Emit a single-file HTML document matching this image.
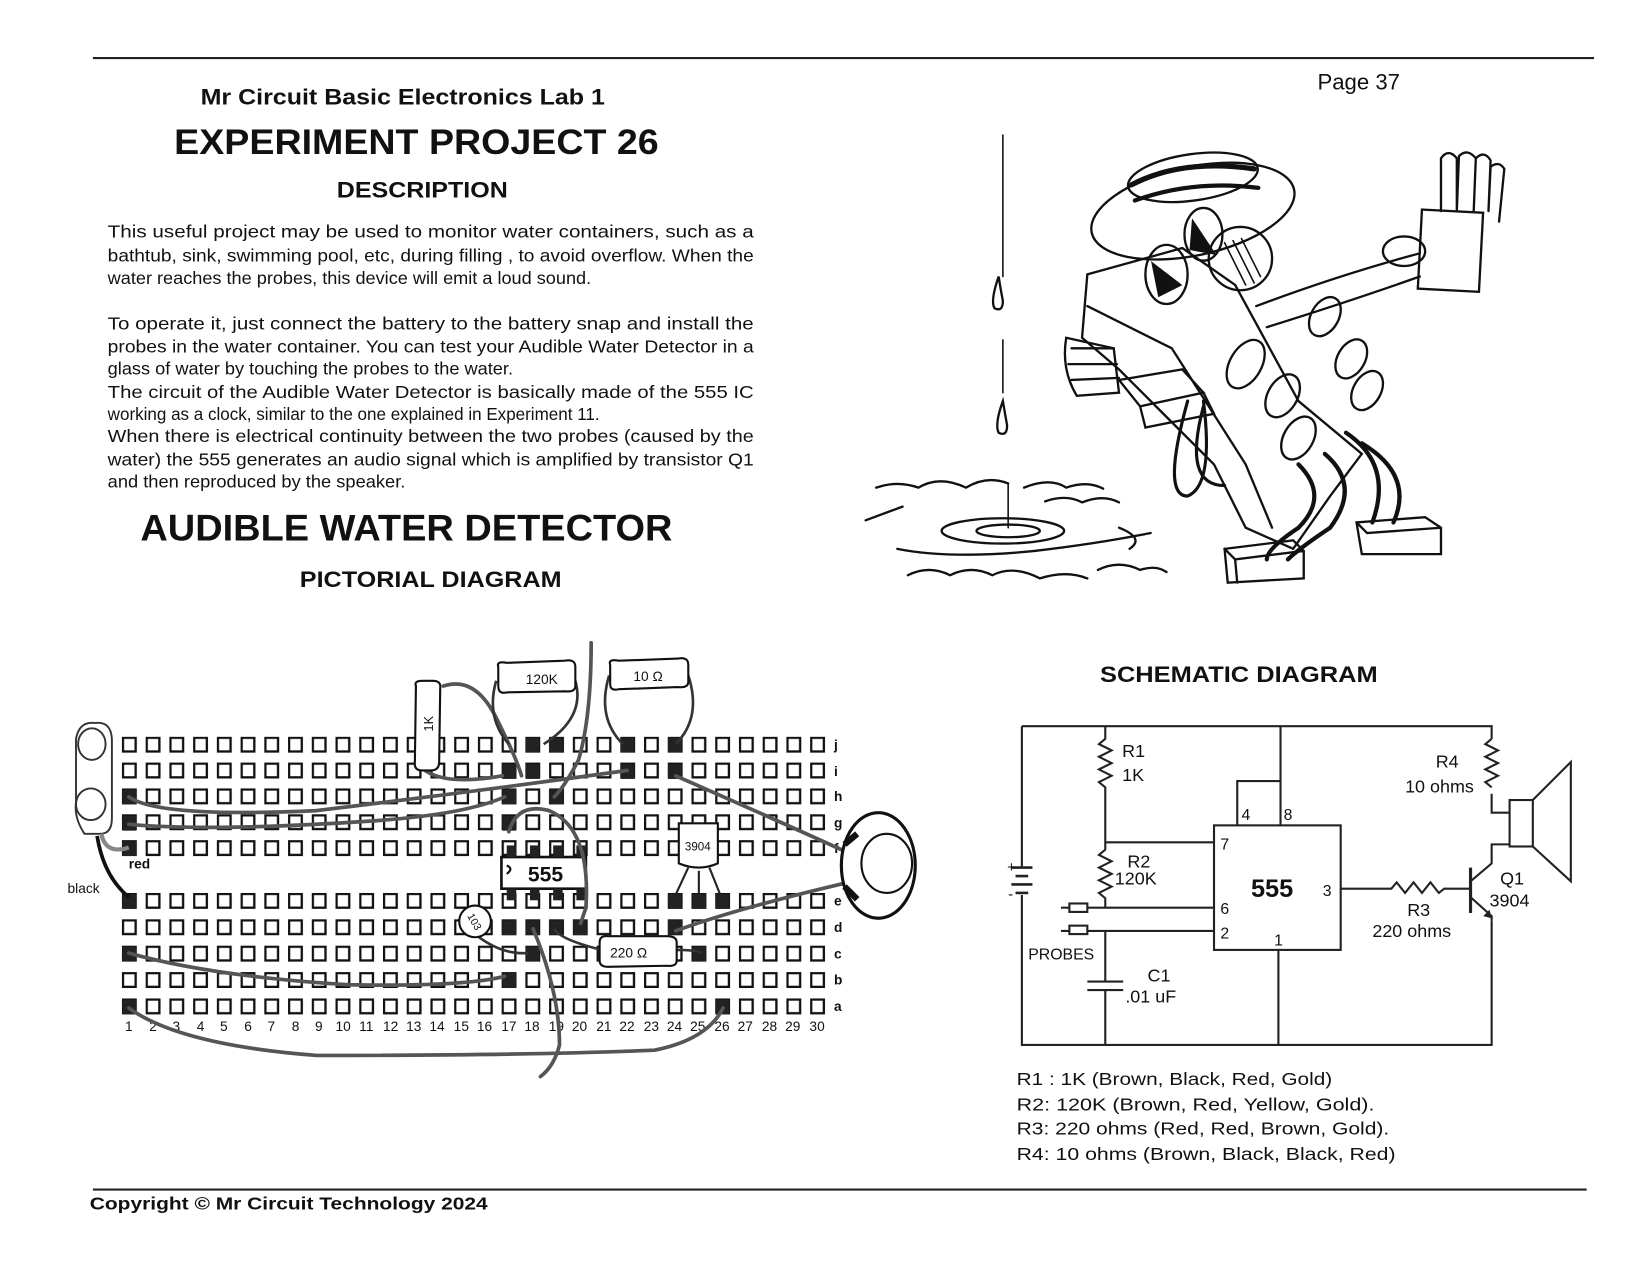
<!DOCTYPE html>
<html><head><meta charset="utf-8">
<style>
html,body{margin:0;padding:0;background:#fff;}
svg{display:block;}
text{font-family:"Liberation Sans",sans-serif;fill:#111;}
.b{font-weight:bold;}
.body{font-size:16.5px;}
.sch{font-size:17px;}
</style></head>
<body>
<svg width="1650" height="1275" viewBox="0 0 1563 1208" preserveAspectRatio="none" xmlns="http://www.w3.org/2000/svg">
<defs>
<pattern id="hp" patternUnits="userSpaceOnUse" x="115.5" y="698" width="22.48" height="24.5">
<rect x="1" y="1" width="12" height="13" fill="none" stroke="#111" stroke-width="2.2"/>
</pattern>
<pattern id="hp2" patternUnits="userSpaceOnUse" x="115.5" y="846" width="22.48" height="25">
<rect x="1" y="1" width="12" height="13" fill="none" stroke="#111" stroke-width="2.2"/>
</pattern>
</defs>
<rect width="1563" height="1208" fill="#fff"/>
<line x1="88" y1="55" x2="1510" y2="55" stroke="#222" stroke-width="2"/>
<line x1="88" y1="1127" x2="1503" y2="1127" stroke="#222" stroke-width="2"/>

<text x="190" y="99" class="b" font-size="21" textLength="383" lengthAdjust="spacingAndGlyphs">Mr Circuit Basic Electronics Lab 1</text>
<text x="1248" y="85" font-size="21">Page 37</text>
<text x="165" y="146" class="b" font-size="33" textLength="459" lengthAdjust="spacingAndGlyphs">EXPERIMENT PROJECT 26</text>
<text x="319" y="187" class="b" font-size="21" textLength="162" lengthAdjust="spacingAndGlyphs">DESCRIPTION</text>

<g class="body">
<text x="102" y="225" textLength="612" lengthAdjust="spacingAndGlyphs">This useful project may be used to monitor water containers, such as a</text>
<text x="102" y="248" textLength="612" lengthAdjust="spacingAndGlyphs">bathtub, sink, swimming pool, etc, during filling , to avoid overflow. When the</text>
<text x="102" y="269" textLength="458" lengthAdjust="spacingAndGlyphs">water reaches the probes, this device will emit a loud sound.</text>
<text x="102" y="312" textLength="612" lengthAdjust="spacingAndGlyphs">To operate it, just connect the battery to the battery snap and install the</text>
<text x="102" y="334" textLength="612" lengthAdjust="spacingAndGlyphs">probes in the water container. You can test your Audible Water Detector in a</text>
<text x="102" y="355" textLength="384" lengthAdjust="spacingAndGlyphs">glass of water by touching the probes to the water.</text>
<text x="102" y="377" textLength="612" lengthAdjust="spacingAndGlyphs">The circuit of the Audible Water Detector is basically made of the 555 IC</text>
<text x="102" y="398" textLength="466" lengthAdjust="spacingAndGlyphs">working as a clock, similar to the one explained in Experiment 11.</text>
<text x="102" y="419" textLength="612" lengthAdjust="spacingAndGlyphs">When there is electrical continuity between the two probes (caused by the</text>
<text x="102" y="441" textLength="612" lengthAdjust="spacingAndGlyphs">water) the 555 generates an audio signal which is amplified by transistor Q1</text>
<text x="102" y="462" textLength="282" lengthAdjust="spacingAndGlyphs">and then reproduced by the speaker.</text>
</g>

<text x="133" y="512" class="b" font-size="35" textLength="504" lengthAdjust="spacingAndGlyphs">AUDIBLE WATER DETECTOR</text>
<text x="284" y="556" class="b" font-size="21" textLength="248" lengthAdjust="spacingAndGlyphs">PICTORIAL DIAGRAM</text>
<text x="1042" y="646" class="b" font-size="21" textLength="263" lengthAdjust="spacingAndGlyphs">SCHEMATIC DIAGRAM</text>
<text x="85" y="1146" class="b" font-size="17" textLength="377" lengthAdjust="spacingAndGlyphs">Copyright © Mr Circuit Technology 2024</text>

<!-- ===== cartoon ===== -->
<g fill="none" stroke="#111" stroke-width="2.2" stroke-linecap="round">
<line x1="950" y1="128" x2="950" y2="262" stroke-width="1.5"/>
<path d="M946 262 Q938 285 942 292 Q950 296 950 285 Q948 275 946 262Z"/>
<line x1="950" y1="322" x2="950" y2="372" stroke-width="1.5"/>
<path d="M950 380 Q942 402 946 410 Q954 414 954 403 Q952 392 950 380Z"/>
<line x1="955" y1="458" x2="955" y2="500" stroke-width="1.5"/>
<ellipse cx="955" cy="503" rx="30" ry="6"/>
<ellipse cx="950" cy="503" rx="58" ry="12"/>
<path d="M850 520 Q900 530 980 522 Q1040 515 1090 505"/>
<path d="M820 493 L855 480"/>
<path d="M830 462 Q850 455 870 462 Q890 450 915 462 Q935 450 955 458"/>
<path d="M970 462 Q995 452 1010 462 Q1030 455 1045 463"/>
<path d="M990 475 Q1010 468 1025 476 Q1045 468 1060 476"/>
<path d="M1060 500 Q1085 510 1070 520"/>
<path d="M860 545 Q880 535 900 545 Q920 535 940 545 Q960 535 985 548 Q1010 540 1030 548"/>
<path d="M1040 540 Q1060 530 1080 540 Q1095 535 1105 542"/>
<ellipse cx="1130" cy="200" rx="98" ry="42" transform="rotate(-12 1130 200)"/>
<ellipse cx="1130" cy="168" rx="62" ry="22" transform="rotate(-8 1130 168)"/>
<path d="M1072 175 Q1120 150 1188 160" stroke-width="5"/>
<path d="M1075 190 Q1130 170 1192 178" stroke-width="4"/>
<path d="M1030 260 L1120 235 L1170 270 L1230 380 L1290 430 L1260 470 L1225 520 L1180 500 L1150 440 L1100 390 L1060 350 L1025 320 Z"/>
<path d="M1030 290 L1110 330 L1180 440 L1205 500"/>
<circle cx="1175" cy="245" r="30"/>
<ellipse cx="1140" cy="222" rx="18" ry="25"/>
<path d="M1130 210 L1150 240 L1128 236 Z" fill="#111"/>
<ellipse cx="1105" cy="260" rx="20" ry="28"/>
<path d="M1092 250 L1118 270 L1098 280 Z" fill="#111"/>
<path d="M1160 230 L1180 270 M1168 228 L1188 268 M1176 226 L1194 262" stroke-width="1.5"/>
<path d="M1190 290 Q1270 260 1345 240 M1200 310 Q1280 285 1345 262"/>
<rect x="1345" y="200" width="58" height="75" transform="rotate(3 1374 237)"/>
<path d="M1365 200 L1365 150 Q1372 140 1380 150 L1380 200 M1380 200 L1382 148 Q1390 140 1398 150 L1396 200 M1396 200 L1398 150 Q1406 142 1412 152 L1410 200 M1410 200 L1412 158 Q1420 152 1425 160 L1420 210"/>
<ellipse cx="1330" cy="238" rx="20" ry="14"/>
<path d="M1060 360 L1120 350 L1140 372 L1080 385 Z"/>
<path d="M1080 385 L1085 405 L1150 392 L1140 372"/>
<path d="M1010 320 Q1005 350 1020 375 L1060 372 L1055 330 Z"/>
<path d="M1015 330 L1055 330 M1012 345 L1058 345 M1015 360 L1060 358"/>
<ellipse cx="1180" cy="345" rx="15" ry="25" transform="rotate(30 1180 345)"/>
<ellipse cx="1215" cy="375" rx="14" ry="22" transform="rotate(30 1215 375)"/>
<ellipse cx="1230" cy="415" rx="14" ry="22" transform="rotate(30 1230 415)"/>
<ellipse cx="1255" cy="300" rx="13" ry="20" transform="rotate(30 1255 300)"/>
<ellipse cx="1280" cy="340" rx="13" ry="20" transform="rotate(30 1280 340)"/>
<ellipse cx="1295" cy="370" rx="13" ry="20" transform="rotate(30 1295 370)"/>
<path d="M1125 380 Q1100 470 1125 470 Q1150 460 1140 380" stroke-width="3"/>
<path d="M1140 385 Q1120 460 1160 460" stroke-width="3"/>
<path d="M1230 440 Q1260 470 1230 500 Q1200 520 1200 530" stroke-width="4"/>
<path d="M1255 430 Q1290 460 1260 500 Q1230 520 1220 530" stroke-width="4"/>
<path d="M1290 420 Q1340 450 1320 495" stroke-width="4"/>
<path d="M1275 410 Q1320 440 1300 495" stroke-width="4"/>
<path d="M1160 520 L1225 512 L1235 522 L1235 548 L1163 552 Z"/>
<path d="M1160 520 L1170 530 L1235 522 M1170 530 L1172 552"/>
<path d="M1285 495 L1350 490 L1365 500 L1365 525 L1290 525 Z"/>
<path d="M1285 495 L1295 505 L1365 500"/>
</g>

<!-- ===== breadboard ===== -->
<rect x="115" y="698" width="673" height="118" fill="url(#hp)"/>
<rect x="115" y="846" width="673" height="122" fill="url(#hp2)"/>
<g font-size="13" class="b">
<text x="790" y="710">j</text><text x="790" y="735">i</text><text x="790" y="759">h</text><text x="790" y="784">g</text><text x="790" y="808">f</text>
<text x="790" y="858">e</text><text x="790" y="883">d</text><text x="790" y="908">c</text><text x="790" y="933">b</text><text x="790" y="958">a</text>
</g>
<g font-size="13" text-anchor="middle">
<text x="122" y="977">1</text><text x="145" y="977">2</text><text x="167" y="977">3</text><text x="190" y="977">4</text><text x="212" y="977">5</text><text x="235" y="977">6</text><text x="257" y="977">7</text><text x="280" y="977">8</text><text x="302" y="977">9</text><text x="325" y="977">10</text><text x="347" y="977">11</text><text x="370" y="977">12</text><text x="392" y="977">13</text><text x="414" y="977">14</text><text x="437" y="977">15</text><text x="459" y="977">16</text><text x="482" y="977">17</text><text x="504" y="977">18</text><text x="527" y="977">19</text><text x="549" y="977">20</text><text x="572" y="977">21</text><text x="594" y="977">22</text><text x="617" y="977">23</text><text x="639" y="977">24</text><text x="661" y="977">25</text><text x="684" y="977">26</text><text x="706" y="977">27</text><text x="729" y="977">28</text><text x="751" y="977">29</text><text x="774" y="977">30</text>
</g>
<g fill="#222">
<rect x="498" y="699" width="13" height="14"/><rect x="520" y="699" width="13" height="14"/><rect x="588" y="699" width="13" height="14"/><rect x="633" y="699" width="13" height="14"/>
<rect x="476" y="724" width="13" height="14"/><rect x="498" y="724" width="13" height="14"/><rect x="588" y="724" width="13" height="14"/><rect x="633" y="724" width="13" height="14"/>
<rect x="116" y="748" width="13" height="14"/><rect x="476" y="748" width="13" height="14"/><rect x="520" y="748" width="13" height="14"/>
<rect x="116" y="773" width="13" height="14"/><rect x="476" y="773" width="13" height="14"/>
<rect x="116" y="797" width="13" height="14"/>
<rect x="116" y="847" width="13" height="14"/><rect x="633" y="847" width="13" height="14"/><rect x="656" y="847" width="13" height="14"/><rect x="678" y="847" width="13" height="14"/>
<rect x="476" y="872" width="13" height="14"/><rect x="498" y="872" width="13" height="14"/><rect x="520" y="872" width="13" height="14"/><rect x="543" y="872" width="13" height="14"/><rect x="633" y="872" width="13" height="14"/>
<rect x="116" y="897" width="13" height="14"/><rect x="498" y="897" width="13" height="14"/><rect x="656" y="897" width="13" height="14"/>
<rect x="476" y="922" width="13" height="14"/>
<rect x="116" y="947" width="13" height="14"/><rect x="678" y="947" width="13" height="14"/>
</g>
<rect x="475" y="812" width="80" height="30" fill="#fff" stroke="#111" stroke-width="2.5"/>
<g fill="#222"><rect x="480" y="801" width="9" height="11"/><rect x="502" y="801" width="9" height="11"/><rect x="524" y="801" width="9" height="11"/><rect x="546" y="801" width="9" height="11"/>
<rect x="480" y="842" width="9" height="11"/><rect x="502" y="842" width="9" height="11"/><rect x="524" y="842" width="9" height="11"/><rect x="546" y="842" width="9" height="11"/></g>
<text x="500" y="835" class="b" font-size="20">555</text>
<path d="M480 820 Q487 823 480 828" fill="none" stroke="#111" stroke-width="2"/>
<path d="M643 780 L680 780 L680 818 Q662 826 643 818 Z" fill="#fff" stroke="#111" stroke-width="2"/>
<text x="661" y="806" font-size="11" text-anchor="middle">3904</text>
<path d="M652 822 L638 852 M662 825 L662 852 M672 822 L684 852" stroke="#222" stroke-width="2" fill="none"/>
<g fill="none" stroke="#555" stroke-width="3.5" stroke-linecap="round">
<path d="M122 755 Q150 775 300 768 Q450 750 594 730"/>
<path d="M122 781 Q200 788 350 778 Q440 772 478 755"/>
<path d="M482 788 Q490 760 520 768 Q560 785 555 860 L550 875"/>
<path d="M122 903 Q200 925 330 933 Q440 935 478 925"/>
<path d="M122 955 Q170 990 300 1000 Q500 1000 620 995 Q670 985 685 955"/>
<path d="M505 880 Q530 940 530 990 Q525 1010 512 1020"/>
<path d="M640 735 Q720 770 808 810"/>
<path d="M640 882 Q700 860 808 835"/>
<path d="M560 609 Q560 680 548 720 Q535 745 525 755"/>
<path d="M420 650 Q450 640 470 680 Q490 720 494 735"/>
<path d="M400 728 Q420 745 476 735"/>
</g>
<g fill="none" stroke="#333" stroke-width="2.5">
<path d="M470 645 Q460 680 482 705"/><path d="M545 645 Q555 680 515 705"/>
<path d="M577 640 Q565 680 590 705"/><path d="M652 640 Q665 680 640 705"/>
<path d="M570 900 Q530 890 525 880"/><path d="M640 900 Q660 900 665 903"/>
<path d="M442 878 Q470 905 500 903"/>
</g>
<g stroke="#111" stroke-width="2" fill="#fff">
<path d="M472 632 Q470 626 480 628 L535 626 Q545 624 545 632 L545 650 Q545 656 535 655 L480 656 Q472 658 472 650 Z"/>
<path d="M578 630 Q576 624 586 626 L642 624 Q652 622 652 630 L652 646 Q652 652 642 651 L586 653 Q578 655 578 648 Z"/>
<path d="M394 650 Q392 645 400 645 L410 645 Q418 645 417 652 L416 722 Q416 730 408 730 L400 730 Q392 730 393 722 Z"/>
<path d="M568 893 Q568 886 576 887 L632 887 Q641 887 641 893 L641 910 Q641 916 632 915 L576 916 Q568 916 568 910 Z"/>
<circle cx="450" cy="873" r="15"/>
</g>
<text x="498" y="648" font-size="13">120K</text>
<text x="600" y="645" font-size="13">10 Ω</text>
<text x="410" y="693" font-size="12" transform="rotate(-90 410 693)">1K</text>
<text x="578" y="907" font-size="13">220 Ω</text>
<text x="450" y="877" font-size="10" text-anchor="middle" transform="rotate(60 450 873)">103</text>
<ellipse cx="832" cy="820" rx="35" ry="50" fill="#fff" stroke="#111" stroke-width="3"/>
<ellipse cx="840" cy="818" rx="24" ry="28" fill="#fff" stroke="#111" stroke-width="2"/>
<path d="M800 800 L812 790 M800 840 L812 852" stroke="#111" stroke-width="6"/>
<g fill="none" stroke="#333" stroke-width="1.8">
<path d="M90 685 Q105 683 106 700 L106 775 Q106 790 95 790 L80 790 Q70 775 72 760 L72 700 Q75 683 90 685 Z"/>
<ellipse cx="87" cy="705" rx="13" ry="15"/><ellipse cx="86" cy="762" rx="14" ry="15"/>
</g>
<path d="M96 790 Q100 810 122 803" stroke="#888" stroke-width="4" fill="none"/>
<path d="M92 792 Q98 830 122 850" stroke="#111" stroke-width="3.5" fill="none"/>
<text x="122" y="823" font-size="13" class="b">red</text>
<text x="64" y="846" font-size="13">black</text>

<!-- ===== schematic ===== -->
<g fill="none" stroke="#222" stroke-width="2">
<path d="M968 688 L1413 688 L1413 700 M1413 752 L1413 770 L1430 770"/>
<path d="M1413 700 l-6 5 l12 6 l-12 6 l12 6 l-12 6 l12 6 l-12 6 l6 5" />
<path d="M968 688 L968 822 M968 848 L968 990 L1413 990 L1413 872"/>
<path d="M958 822 L978 822 M962 830 L974 830 M958 838 L978 838 M962 846 L974 846" stroke-width="2.5"/>
<path d="M1047 688 L1047 700 l-6 5 l12 6 l-12 6 l12 6 l-12 6 l12 6 l-12 6 l6 5 L1047 805 l-6 5 l12 6 l-12 6 l12 6 l-12 6 l12 6 l-12 6 l6 5 L1047 860"/>
<path d="M1047 798 L1150 798"/>
<path d="M1030 860 L1150 860"/><path d="M1030 882 L1150 882"/>
<rect x="1013" y="856" width="17" height="8"/><rect x="1013" y="877" width="17" height="8"/>
<path d="M1005 860 L1013 860 M1005 882 L1013 882"/>
<path d="M1047 882 L1047 930 M1030 930 L1064 930 M1030 938 L1064 938 M1047 938 L1047 990"/>
<rect x="1150" y="782" width="120" height="118"/>
<path d="M1172 782 L1172 740 L1213 740 M1213 688 L1213 782"/>
<path d="M1211 900 L1211 990"/>
<path d="M1270 842 L1318 842 l5 -6 l8 10 l8 -10 l8 10 l8 -10 l8 10 l5 -4 L1393 842"/>
<path d="M1393 822 L1393 865" stroke-width="3"/>
<path d="M1393 835 L1413 818 L1413 800 L1430 800"/>
<path d="M1393 850 L1413 868 L1413 872"/>
<rect x="1430" y="758" width="22" height="44"/>
<path d="M1452 758 L1488 722 L1488 835 L1452 802"/>
</g>
<path d="M1413 870 l-8 -2 l6 -6 z" fill="#222"/>
<g class="sch">
<text x="1063" y="717">R1</text><text x="1063" y="740">1K</text>
<text x="1068" y="822">R2</text><text x="1056" y="838">120K</text>
<text x="1176" y="777" font-size="15">4</text><text x="1216" y="777" font-size="15">8</text>
<text x="1156" y="805" font-size="15">7</text><text x="1156" y="866" font-size="15">6</text><text x="1156" y="889" font-size="15">2</text>
<text x="1253" y="849" font-size="15">3</text><text x="1207" y="896" font-size="15">1</text>
<text x="1185" y="850" font-size="24" class="b" font-family="Liberation Mono">555</text>
<text x="1360" y="727">R4</text><text x="1331" y="751">10 ohms</text>
<text x="1333" y="868">R3</text><text x="1300" y="888">220 ohms</text>
<text x="1421" y="838">Q1</text><text x="1411" y="859">3904</text>
<text x="974" y="909" font-size="15">PROBES</text>
<text x="1087" y="930">C1</text><text x="1066" y="950">.01 uF</text>
<text x="954" y="826" font-size="14">+</text><text x="955" y="852" font-size="14">-</text>
<text x="963" y="1028" textLength="299" lengthAdjust="spacingAndGlyphs">R1 : 1K (Brown, Black, Red, Gold)</text>
<text x="963" y="1052" textLength="339" lengthAdjust="spacingAndGlyphs">R2: 120K (Brown, Red, Yellow, Gold).</text>
<text x="963" y="1075" textLength="353" lengthAdjust="spacingAndGlyphs">R3: 220 ohms (Red, Red, Brown, Gold).</text>
<text x="963" y="1099" textLength="359" lengthAdjust="spacingAndGlyphs">R4: 10 ohms (Brown, Black, Black, Red)</text>
</g>
</svg>
</body></html>
